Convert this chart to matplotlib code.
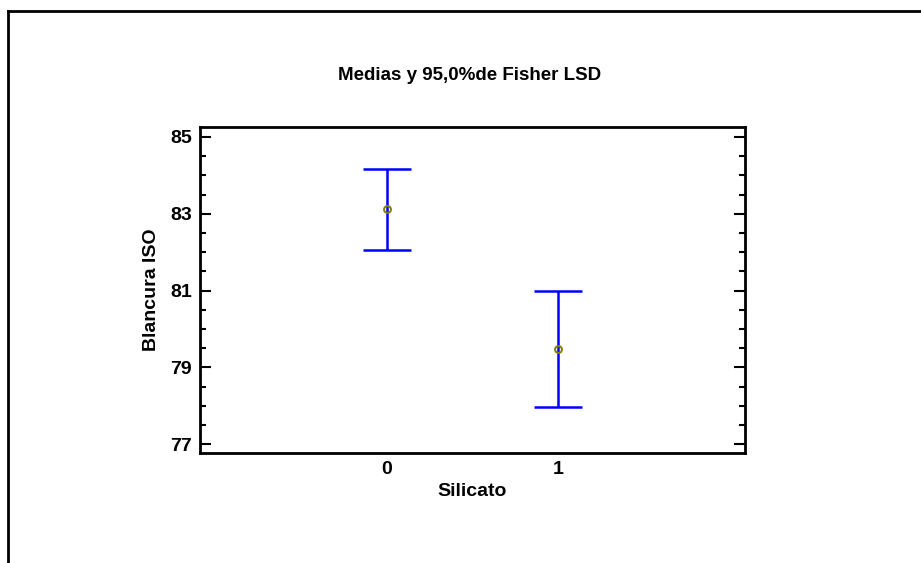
import numpy as np
import matplotlib.pyplot as plt
from matplotlib.lines import Line2D
from matplotlib.ticker import MultipleLocator

# group means and LSD interval limits
levels = ["0", "1"]
means = [83.12, 79.48]
lower = [82.06, 77.97]
upper = [84.17, 80.99]

plt.rcParams['font.family'] = ['Liberation Sans', 'DejaVu Sans']
plt.rcParams['font.weight'] = 'bold'

fig = plt.figure(figsize=(9.21, 5.63), dpi=100)

# outer frame (top and left edges only show)
fig.add_artist(Line2D([8 / 921, 8 / 921], [0, 1 - 11 / 563], transform=fig.transFigure,
                      color='black', lw=2))
fig.add_artist(Line2D([8 / 921, 1], [1 - 11 / 563, 1 - 11 / 563], transform=fig.transFigure,
                      color='black', lw=2))

ax = fig.add_axes([200 / 921, 1 - 453 / 563, 545 / 921, 326 / 563])

x = np.arange(len(levels))
m = np.array(means)
err = [m - np.array(lower), np.array(upper) - m]
ax.errorbar(x, m, yerr=err, fmt='none', ecolor='#0000ff', elinewidth=1.8,
            capsize=17.5, capthick=1.8)
ax.plot(x, m, 'o', ms=5, mfc='none', mec='#808000', mew=1.4)

ax.set_xlim(-1.094, 2.094)
ax.set_ylim(76.77, 85.26)
ax.set_xticks(x)
ax.set_xticklabels(levels)
ax.set_yticks([77, 79, 81, 83, 85])
ax.yaxis.set_minor_locator(MultipleLocator(0.5))

ax.tick_params(axis='y', which='major', direction='in', length=8, width=1.5,
               left=True, right=True, labelsize=14, pad=6)
ax.tick_params(axis='y', which='minor', direction='in', length=4.5, width=1.5,
               left=True, right=True)
ax.tick_params(axis='x', length=0, labelsize=14, pad=6)

for s in ax.spines.values():
    s.set_linewidth(2)

ax.set_xlabel("Silicato", fontsize=14, fontweight='bold', labelpad=3)
ax.set_ylabel("Blancura ISO", fontsize=14, fontweight='bold', labelpad=7)

title = "Medias y 95,0%de Fisher LSD"
fig.text(470 / 921, 1 - 75 / 563, title, ha='center', va='center',
         fontsize=13.5, fontweight='bold')

fig.savefig("out.png", dpi=100)
